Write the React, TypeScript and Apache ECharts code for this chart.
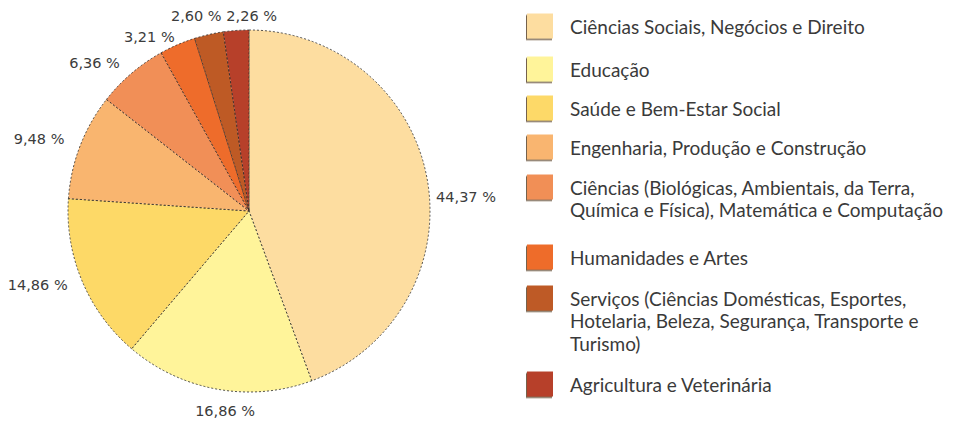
import React, { useEffect, useRef } from "react";
import * as echarts from "echarts";

const categories = [
  "Ciências Sociais, Negócios e Direito",
  "Educação",
  "Saúde e Bem-Estar Social",
  "Engenharia, Produção e Construção",
  "Ciências (Biológicas, Ambientais, da Terra,\nQuímica e Física), Matemática e Computação",
  "Humanidades e Artes",
  "Serviços (Ciências Domésticas, Esportes,\nHotelaria, Beleza, Segurança, Transporte e\nTurismo)",
  "Agricultura e Veterinária",
];
const values = [44.37, 16.86, 14.86, 9.48, 6.36, 3.21, 2.6, 2.26];
const colors = ["#FDDDA0", "#FFF49A", "#FDD967", "#F9B56F", "#F18F57", "#EE6C2B", "#BE5A25", "#B7402A"];

// layout (not data)
const legendIconCenters = [26, 69, 108, 147, 187, 257, 298, 384];
const labelNudge: [number, number][] = [
  [2, 19], [9, 7], [-8, 1], [-9, -5], [-7, -5], [0, -1], [-11, -4], [16, 0],
];

const legendFont = "Lato, 'Open Sans', sans-serif";
const labelFont = "'DejaVu Sans', sans-serif";
const LINE_H = 22.5;
const ICON_H = 25;
const CX = 249, CY = 211, R = 181;

export default function App() {
  const ref = useRef<HTMLDivElement>(null);
  useEffect(() => {
    document.body.style.margin = "0";
    const chart = echarts.init(ref.current!, null, { renderer: "svg" });
    const total = values.reduce((a, b) => a + b, 0);
    const cum: number[] = [];
    values.reduce((acc, v, i) => { cum[i] = acc + v / 2; return acc + v; }, 0);

    const legends = categories.map((name, i) => {
      const n = name.split("\n").length;
      const half = Math.max(ICON_H / 2, ((2 * n - 1) * LINE_H) / 2);
      return {
        orient: "vertical",
        left: 527,
        top: legendIconCenters[i] - half,
        padding: 0,
        itemWidth: 26,
        itemHeight: ICON_H,
        icon: "rect",
        selectedMode: false,
        itemStyle: {
          borderWidth: 0,
          shadowColor: "rgba(70,45,20,0.75)",
          shadowOffsetY: 1.5,
          shadowOffsetX: -1,
          shadowBlur: 0,
        },
        // blank lines above keep the first text line level with the swatch
        formatter: (nm: string) => "\n".repeat(n - 1) + nm,
        textStyle: {
          fontFamily: legendFont,
          fontSize: 19,
          color: "#3a3a3a",
          lineHeight: LINE_H,
          padding: [0, 0, 0, 12],
        },
        data: [name],
      };
    });

    chart.setOption({
      animation: false,
      backgroundColor: "#fff",
      color: colors,
      legend: legends,
      series: [
        {
          type: "pie",
          center: [CX, CY],
          radius: R,
          startAngle: 90,
          clockwise: true,
          avoidLabelOverlap: false,
          data: categories.map((c, i) => ({ name: c, value: values[i] })),
          itemStyle: { borderColor: "#2a2a2a", borderWidth: 0.8, borderType: [2, 2] },
          label: {
            show: true,
            position: "outside",
            formatter: (p: any) => p.value.toFixed(2).replace(".", ",") + " %",
            fontFamily: labelFont,
            fontSize: 14.5,
            color: "#3c3c3c",
          },
          labelLine: { show: false, length: 6, length2: 0 },
          labelLayout: (p: any) => {
            const i = p.dataIndex;
            const a = (cum[i] / total) * Math.PI * 2;
            const s = Math.sin(a), c = Math.cos(a);
            const rr = R + 7;
            const x = CX + rr * s;
            const y = CY - rr * c;
            let align = "center";
            let verticalAlign = "middle";
            if (s > 0.3) align = "left";
            else if (s < -0.3) align = "right";
            else verticalAlign = c > 0 ? "bottom" : "top";
            return { x: x + labelNudge[i][0], y: y + labelNudge[i][1], align, verticalAlign };
          },
          emphasis: { disabled: true },
        },
      ],
    });
    return () => chart.dispose();
  }, []);
  return <div ref={ref} style={{ width: 954, height: 423 }} />;
}
